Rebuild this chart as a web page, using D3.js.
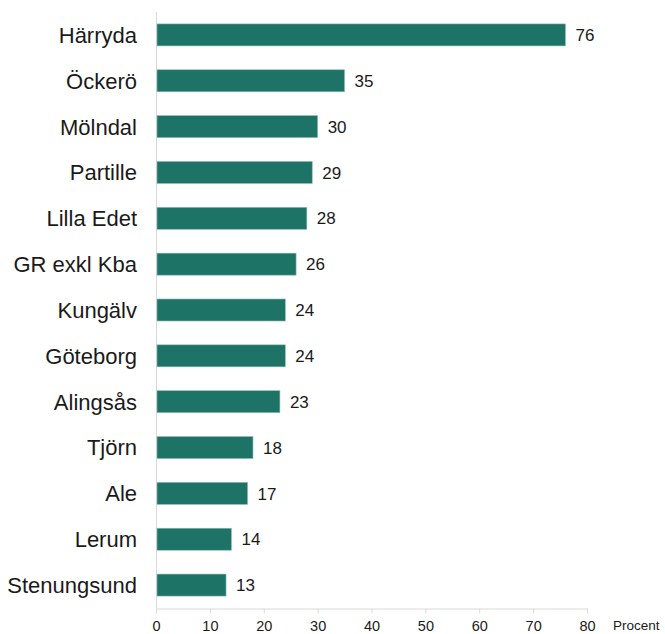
<!DOCTYPE html>
<html>
<head>
<meta charset="utf-8">
<script src="https://cdn.jsdelivr.net/npm/d3@7"></script>
<style>
  html, body { margin: 0; padding: 0; background: #fff; }
  svg { display: block; }
</style>
</head>
<body>
<svg id="chart" width="665" height="634"></svg>
<script>
const categories = ["Härryda", "Öckerö", "Mölndal", "Partille", "Lilla Edet", "GR exkl Kba",
  "Kungälv", "Göteborg", "Alingsås", "Tjörn", "Ale", "Lerum", "Stenungsund"];
const values = [76, 35, 30, 29, 28, 26, 24, 24, 23, 18, 17, 14, 13];
const tickValues = [0, 10, 20, 30, 40, 50, 60, 70, 80];
const unitLabel = "Procent";

(function draw() {
  const svg = d3.select("#chart");
  const plotLeft = 156, plotRight = 587, plotTop = 12, plotBottom = 608;

  const x = d3.scaleLinear().domain([0, 80]).range([plotLeft, plotRight]);
  const y = d3.scaleBand().domain(categories).range([plotTop, plotBottom])
    .paddingInner(0.52).paddingOuter(0.26);

  const barColor = "#1d7366";
  const gridColor = "#d9d9d9";
  const font = "Liberation Sans, Arial, sans-serif";

  // vertical baseline
  svg.append("line")
    .attr("x1", plotLeft + 0.5).attr("x2", plotLeft + 0.5)
    .attr("y1", plotTop).attr("y2", plotBottom)
    .attr("stroke", gridColor).attr("stroke-width", 1);

  // bars
  svg.append("g").selectAll("rect")
    .data(values)
    .join("rect")
    .attr("x", x(0) + 1)
    .attr("y", (d, i) => y(categories[i]))
    .attr("width", d => x(d) - x(0) - 1)
    .attr("height", y.bandwidth())
    .attr("fill", barColor)
    .attr("stroke", "#8fbcb5")
    .attr("stroke-width", 0.6);

  // value labels
  svg.append("g").selectAll("text")
    .data(values)
    .join("text")
    .attr("x", d => x(d) + 10)
    .attr("y", (d, i) => y(categories[i]) + y.bandwidth() / 2)
    .attr("dy", "0.36em")
    .attr("font-family", font)
    .attr("font-size", 17)
    .attr("fill", "#1a1a1a")
    .text(d => d);

  // category labels
  svg.append("g").selectAll("text")
    .data(categories)
    .join("text")
    .attr("x", 137)
    .attr("y", d => y(d) + y.bandwidth() / 2)
    .attr("dy", "0.36em")
    .attr("text-anchor", "end")
    .attr("font-family", font)
    .attr("font-size", 22)
    .attr("fill", "#1a1a1a")
    .text(d => d);

  // x axis
  const xAxis = d3.axisBottom(x).tickValues(tickValues).tickSize(5).tickPadding(7);
  const gx = svg.append("g")
    .attr("transform", `translate(0,${plotBottom + 0.5})`)
    .call(xAxis);
  gx.select(".domain").attr("stroke", gridColor);
  gx.selectAll(".tick line").attr("stroke", gridColor);
  gx.selectAll(".tick text")
    .attr("font-family", font)
    .attr("font-size", 14.5)
    .attr("fill", "#1a1a1a");

  svg.append("text")
    .attr("x", 613)
    .attr("y", 630)
    .attr("font-family", font)
    .attr("font-size", 13.5)
    .attr("fill", "#1a1a1a")
    .text(unitLabel);
})();
</script>
</body>
</html>
